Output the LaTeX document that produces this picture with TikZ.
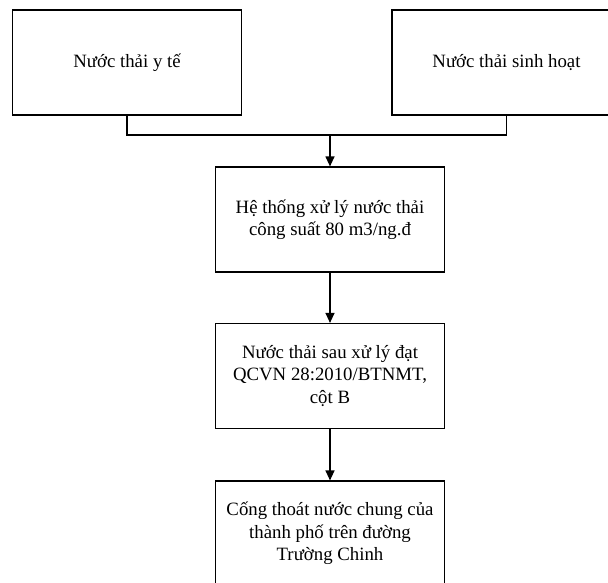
\documentclass[tikz,border=0pt]{standalone}
\usepackage{fontspec}
\setmainfont{Liberation Serif}
\usetikzlibrary{arrows.meta}

\begin{document}
\begin{tikzpicture}
        [x=1pt, y=-1pt, every node/.style={draw, shape=rectangle, fill=white, line width=1.2pt, minimum width=229pt, minimum height=105pt, align=center, inner sep=2pt, font=\fontsize{18.8}{22.5}\selectfont}, every draw/.style={line width=1.2pt, black}]

        \useasboundingbox (0, 0) rectangle (608, 582);

        \node (v1) at (127, 62.5) {Nước thải y tế};
        \node (v2) at (506.5, 62.5) {Nước thải sinh hoạt};
        \node (v3) at (330, 219.5) {Hệ thống xử lý nước thải\\công suất 80 m3/ng.đ};
        \node (v4) at (330, 376) {Nước thải sau xử lý đạt\\QCVN 28:2010/BTNMT,\\cột B};
        \node (v5) at (330, 533.5) {Cống thoát nước chung của\\thành phố trên đường\\Trường Chinh};

        \coordinate (j) at (330, 135);

        \draw[line width=1.2pt] (v1.south) |- (j);
        \draw[line width=1.2pt] (v2.south) |- (j);
        \draw[line width=1.2pt, -{Triangle[width=9pt, length=10pt]}] (j) -- (v3);
        \draw[line width=1.2pt, -{Triangle[width=9pt, length=10pt]}] (v3) -- (v4);
        \draw[line width=1.2pt, -{Triangle[width=9pt, length=10pt]}] (v4) -- (v5);

      \end{tikzpicture}
\end{document}
